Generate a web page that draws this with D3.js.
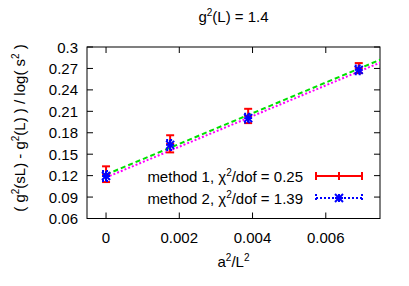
<!DOCTYPE html>
<html><head><meta charset="utf-8">
<script src="https://cdn.jsdelivr.net/npm/d3@7"></script>
<style>body{margin:0;background:#fff}text{font-family:"Liberation Sans",Arial,sans-serif;}</style>
</head><body>
<script>
const xVals = [0, 0.00175, 0.00388, 0.0069];
const m1Vals = [0.122, 0.1645, 0.2035, 0.2705];
const m1Errs = [0.011, 0.012, 0.010, 0.007];
const m2Vals = [0.1195, 0.163, 0.2005, 0.268];
const m2Errs = [0.007, 0.007, 0.006, 0.006];
const fit1 = [[0, 0.1215], [0.0075, 0.2825]];
const fit2 = [[0, 0.1175], [0.0075, 0.2785]];
const xTicks = [0, 0.002, 0.004, 0.006];
const yTicks = [0.06, 0.09, 0.12, 0.15, 0.18, 0.21, 0.24, 0.27, 0.3];

const W = 409, H = 286;
const L = 87, R = 380, T = 47, B = 218.5;
const FS = 15, SS = 10, SUP = 6;
const svg = d3.select("body").append("svg").attr("width", W).attr("height", H);
const x = d3.scaleLinear().domain([-0.00052, 0.00748]).range([L, R]);
const y = d3.scaleLinear().domain([0.06, 0.3]).range([B, T]);

svg.append("rect").attr("x", L).attr("y", T).attr("width", R - L).attr("height", B - T)
  .attr("fill", "none").attr("stroke", "#000").attr("stroke-width", 1);

const tl = 6;
const g = svg.append("g").attr("stroke", "#000").attr("stroke-width", 1);
xTicks.forEach(t => {
  g.append("line").attr("x1", x(t)).attr("x2", x(t)).attr("y1", B).attr("y2", B - tl);
  g.append("line").attr("x1", x(t)).attr("x2", x(t)).attr("y1", T).attr("y2", T + tl);
});
yTicks.forEach(t => {
  g.append("line").attr("x1", L).attr("x2", L + tl).attr("y1", y(t)).attr("y2", y(t));
  g.append("line").attr("x1", R).attr("x2", R - tl).attr("y1", y(t)).attr("y2", y(t));
});
svg.selectAll(".xt").data(xTicks).enter().append("text")
  .attr("x", d => x(d)).attr("y", B + 24).attr("text-anchor", "middle")
  .attr("font-size", FS).text(d => d === 0 ? "0" : d3.format(".3f")(d));
svg.selectAll(".yt").data(yTicks).enter().append("text")
  .attr("x", L - 9).attr("y", d => y(d) + 5.5).attr("text-anchor", "end")
  .attr("font-size", FS).text(d => d === 0.3 ? "0.3" : d3.format(".2f")(d));

function sup(t, s) { t.append("tspan").attr("dy", -SUP).attr("font-size", SS).text(s); }
function nrm(t, s) { t.append("tspan").attr("dy", SUP).text(s); }

const title = svg.append("text").attr("x", (L + R) / 2).attr("y", 22).attr("text-anchor", "middle").attr("font-size", FS);
title.append("tspan").text("g"); sup(title, "2"); nrm(title, "(L) = 1.4");

const xl = svg.append("text").attr("x", (L + R) / 2).attr("y", 267).attr("text-anchor", "middle").attr("font-size", FS);
xl.append("tspan").text("a"); sup(xl, "2"); nrm(xl, "/L"); sup(xl, "2");

const yl = svg.append("text").attr("transform", `translate(25,128) rotate(-90)`)
  .attr("text-anchor", "middle").attr("font-size", FS);
yl.append("tspan").text("( g"); sup(yl, "2"); nrm(yl, "(sL) - g"); sup(yl, "2");
nrm(yl, "(L) ) / log( s"); sup(yl, "2"); nrm(yl, " )");

svg.append("clipPath").attr("id", "c").append("rect").attr("x", L).attr("y", T).attr("width", R - L).attr("height", B - T);
const line = d3.line().x(d => x(d[0])).y(d => y(d[1]));
const plot = svg.append("g").attr("clip-path", "url(#c)");
plot.append("path").attr("d", line(fit1)).attr("fill", "none").attr("stroke", "#00e000")
  .attr("stroke-width", 2).attr("stroke-dasharray", "5,3");
plot.append("path").attr("d", line(fit2)).attr("fill", "none").attr("stroke", "#ff00ff")
  .attr("stroke-width", 2).attr("stroke-dasharray", "2,2");

const red = "#ff0000", blue = "#0000ff";
const cap = 4;
xVals.forEach((xv, i) => {
  const cx = x(xv), y1 = y(m1Vals[i] + m1Errs[i]), y0 = y(m1Vals[i] - m1Errs[i]);
  const gg = svg.append("g").attr("stroke", red).attr("stroke-width", 2);
  gg.append("line").attr("x1", cx).attr("x2", cx).attr("y1", y0).attr("y2", y1);
  gg.append("line").attr("x1", cx - cap).attr("x2", cx + cap).attr("y1", y0).attr("y2", y0);
  gg.append("line").attr("x1", cx - cap).attr("x2", cx + cap).attr("y1", y1).attr("y2", y1);
  const cy = y(m1Vals[i]);
  gg.append("line").attr("x1", cx - cap).attr("x2", cx + cap).attr("y1", cy).attr("y2", cy);
});
function star(gg, cx, cy, r) {
  gg.append("line").attr("x1", cx - r).attr("x2", cx + r).attr("y1", cy).attr("y2", cy);
  gg.append("line").attr("x1", cx).attr("x2", cx).attr("y1", cy - r).attr("y2", cy + r);
  gg.append("line").attr("x1", cx - r).attr("x2", cx + r).attr("y1", cy - r).attr("y2", cy + r);
  gg.append("line").attr("x1", cx - r).attr("x2", cx + r).attr("y1", cy + r).attr("y2", cy - r);
}
xVals.forEach((xv, i) => {
  const cx = x(xv), y1 = y(m2Vals[i] + m2Errs[i]), y0 = y(m2Vals[i] - m2Errs[i]);
  const gd = svg.append("g").attr("stroke", blue).attr("stroke-width", 2).attr("stroke-dasharray", "2,2");
  gd.append("line").attr("x1", cx).attr("x2", cx).attr("y1", y0).attr("y2", y1);
  gd.append("line").attr("x1", cx - cap).attr("x2", cx + cap).attr("y1", y0).attr("y2", y0);
  gd.append("line").attr("x1", cx - cap).attr("x2", cx + cap).attr("y1", y1).attr("y2", y1);
  const gs = svg.append("g").attr("stroke", blue).attr("stroke-width", 2);
  star(gs, cx, y(m2Vals[i]), 4);
});

const legY = [176, 198];
const labels = [["method 1, ", "0.25"], ["method 2, ", "1.39"]];
labels.forEach((lb, i) => {
  const t = svg.append("text").attr("x", 303).attr("y", legY[i] + 5.5).attr("text-anchor", "end").attr("font-size", FS);
  t.append("tspan").text(lb[0] + "\u03C7"); sup(t, "2"); nrm(t, "/dof = " + lb[1]);
});
{
  const gg = svg.append("g").attr("stroke", red).attr("stroke-width", 2);
  const yy = legY[0];
  gg.append("line").attr("x1", 316).attr("x2", 362).attr("y1", yy).attr("y2", yy);
  [316, 339, 362].forEach(xx => gg.append("line").attr("x1", xx).attr("x2", xx).attr("y1", yy - 4).attr("y2", yy + 4));
}
{
  const yy = legY[1];
  const gd = svg.append("g").attr("stroke", blue).attr("stroke-width", 2).attr("stroke-dasharray", "2,2");
  gd.append("line").attr("x1", 316).attr("x2", 362).attr("y1", yy).attr("y2", yy);
  [316, 362].forEach(xx => gd.append("line").attr("x1", xx).attr("x2", xx).attr("y1", yy - 4).attr("y2", yy + 4));
  const gs = svg.append("g").attr("stroke", blue).attr("stroke-width", 2);
  star(gs, 339, yy, 4);
}
</script>
</body></html>
